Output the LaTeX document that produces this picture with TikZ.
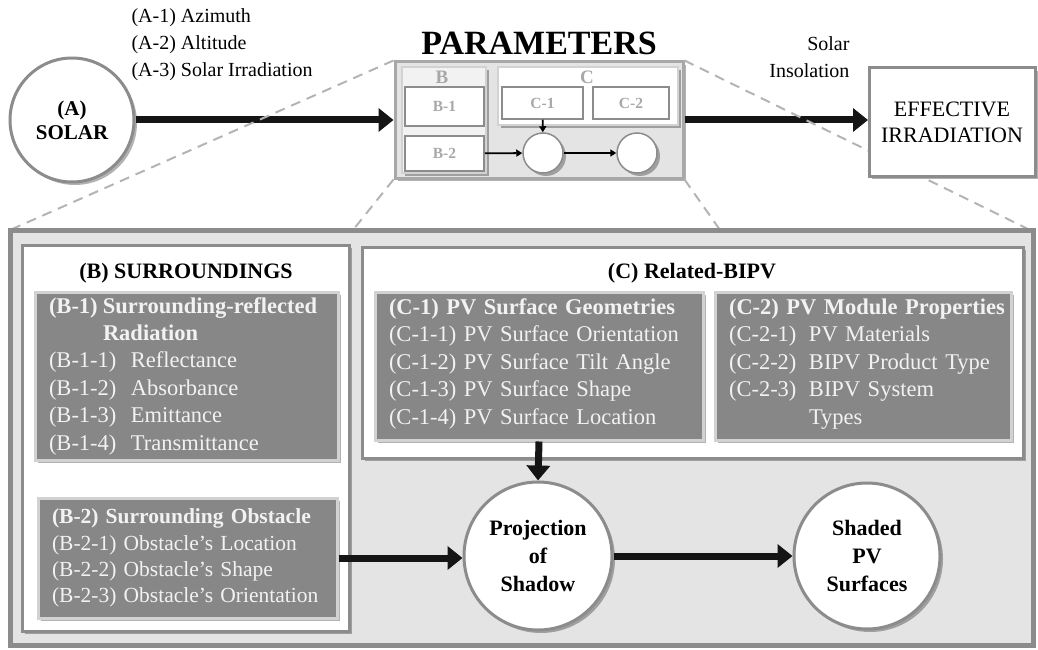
\documentclass[tikz,border=0pt]{standalone}
\usepackage{fontspec}
\setmainfont{Liberation Serif}
\usetikzlibrary{arrows.meta,shadows}
\newcommand\setfs[2]{\fontsize{#1}{#2}\selectfont}
\definecolor{framegray}{HTML}{8C8C8C}
\definecolor{panelgray}{HTML}{E4E4E4}
\definecolor{boxgray}{HTML}{878787}
\definecolor{boxedge}{HTML}{D2D2D2}
\definecolor{dashgray}{HTML}{B4B4B4}
\definecolor{minigray}{HTML}{A8A8A8}
\definecolor{arrowblack}{HTML}{151515}
\tikzset{
  shadowed/.style={drop shadow={shadow xshift=3pt,shadow yshift=-3pt,opacity=0.3,fill=black}},
  bigarrow/.style={line width=7pt,draw=arrowblack,-{Triangle[length=15pt,width=23pt]}},
  miniarrow/.style={line width=1.8pt,draw=black,-{Triangle[length=6pt,width=7pt]}},
  roundnode/.style={circle,draw=framegray,line width=3pt,fill=white,shadowed,align=center,inner sep=0pt},
  panel/.style={draw=framegray,line width=3pt,fill=white,shadowed,align=center,inner sep=0pt},
  darkbox/.style={draw=boxedge,line width=3pt,fill=boxgray,shadowed,text=white!95!black,
    align=left,inner xsep=14pt,inner ysep=0pt},
  minibox/.style={draw=framegray,line width=1.5pt,fill=white,text=minigray,
    font=\setfs{15.5}{18}\bfseries,inner sep=0pt},
  zoomline/.style={draw=dashgray,line width=2pt,dash pattern=on 10pt off 7pt}
}
\begin{document}
\begin{tikzpicture}[x=1pt,y=-1pt]
    \useasboundingbox (0,0) rectangle (1038,650);

    % top row
    \node [roundnode,minimum size=124pt,font=\setfs{21}{24}\bfseries] (sol) at (72,120) {(A)\\SOLAR};
    \node [align=left,anchor=west,font=\setfs{20}{27}] (alab) at (128,45)
        {(A-1) Azimuth\\(A-2) Altitude\\(A-3) Solar Irradiation};
    \node [font=\setfs{34}{40}\bfseries] (ptitle) at (539,43) {PARAMETERS};

    \node [draw=minigray,line width=3pt,fill=panelgray,shadowed,minimum width=288pt,minimum height=116pt] (par) at (539,120) {};
    \node [draw=boxedge,line width=1.5pt,fill=white!95!black,shadowed,minimum width=84pt,minimum height=106pt] (pb) at (444,120) {};
    \node [text=minigray,font=\setfs{19}{22}\bfseries] (pbl) at (442,77) {B};
    \node [minibox,minimum width=79pt,minimum height=39pt] (pbone) at (444.5,106.5) {B-1};
    \node [minibox,minimum width=79pt,minimum height=35pt] (pbtwo) at (444.5,153.5) {B-2};
    \node [draw=boxedge,line width=1.5pt,fill=white,shadowed,minimum width=180pt,minimum height=58pt] (pc) at (588,96) {};
    \node [text=minigray,font=\setfs{19}{22}\bfseries] (pcl) at (587,77) {C};
    \node [minibox,minimum width=81pt,minimum height=32pt] (pcone) at (542.5,103) {C-1};
    \node [minibox,minimum width=76pt,minimum height=32pt] (pctwo) at (631,103) {C-2};
    \node [minibox,circle,minimum size=40pt,shadowed] (pcirca) at (543,153) {};
    \node [minibox,circle,minimum size=40pt,shadowed] (pcircb) at (637,153) {};
    \draw [miniarrow] (pbtwo) -- (pcirca);
    \draw [miniarrow] (pcirca) -- (pcircb);
    \draw [miniarrow] (pcone) -- (pcirca);

    \draw [bigarrow] (sol.east) -- (par.west |- sol.east);
    \draw [bigarrow] (par.east) -- (868,120) coordinate (effin);

    % zoom lines
    \coordinate (zbl) at (353,230);
    \coordinate (zbr) at (720,230);
    \coordinate (ztl) at (10,230);
    \coordinate (ztr) at (1028,229);
    \draw [zoomline] (par.north west) -- (ztl);
    \draw [zoomline] (par.south west) -- (zbl);
    \draw [zoomline] (par.north east) -- (ztr);
    \draw [zoomline] (par.south east) -- (zbr);

    \node [align=right,anchor=east,font=\setfs{20}{27}] (ins) at (853,57) {Solar\\Insolation};
    \node [panel,minimum width=166pt,minimum height=108pt,font=\setfs{22}{26}] (eff) at (952,122)
        {EFFECTIVE\\IRRADIATION};

    % detail frame
    \node [draw=framegray,line width=5pt,fill=panelgray,minimum width=1023pt,minimum height=415pt] (det) at (522,437.5) {};

    \node [panel,minimum width=327pt,minimum height=386pt] (surr) at (185.5,438) {};
    \node [font=\setfs{22}{26}\bfseries] (surrt) at (186,273) {(B) SURROUNDINGS};
    \node [panel,minimum width=661pt,minimum height=211pt] (rel) at (692.5,352.5) {};
    \node [font=\setfs{22}{26}\bfseries] (relt) at (692,273) {(C) Related-BIPV};

    \node [darkbox,text width=275pt,minimum height=168pt,font=\setfs{22.5}{27.4}] (bone) at (186.5,376)
        {\mbox{\bfseries\makebox[54pt][l]{(B-1)}Surrounding-reflected}\\
         \textbf{\hspace*{54pt}Radiation}\\
         \makebox[82pt][l]{(B-1-1)}Reflectance\\
         \makebox[82pt][l]{(B-1-2)}Absorbance\\
         \makebox[82pt][l]{(B-1-3)}Emittance\\
         \makebox[82pt][l]{(B-1-4)}Transmittance};
    \node [darkbox,text width=271pt,minimum height=120pt,font=\setfs{21.5}{26.3}] (btwo) at (187.5,558)
        {\mbox{\bfseries (B-2) Surrounding Obstacle}\\
         (B-2-1) Obstacle’s Location\\
         (B-2-2) Obstacle’s Shape\\
         (B-2-3) Obstacle’s Orientation};
    \node [darkbox,text width=300pt,minimum height=148pt,font=\setfs{22.5}{27.5}] (cone) at (539,366)
        {\mbox{\bfseries (C-1) PV Surface Geometries}\\
         \mbox{(C-1-1) PV Surface Orientation}\\
         (C-1-2) PV Surface Tilt Angle\\
         (C-1-3) PV Surface Shape\\
         (C-1-4) PV Surface Location\\[-18pt]\mbox{}};
    \node [darkbox,text width=268pt,minimum height=148pt,font=\setfs{22.5}{27.5}] (ctwo) at (863,366)
        {\mbox{\bfseries (C-2) PV Module Properties}\\
         \makebox[80pt][l]{(C-2-1)}PV Materials\\
         \mbox{\makebox[80pt][l]{(C-2-2)}BIPV Product Type}\\
         \makebox[80pt][l]{(C-2-3)}BIPV System\\
         \hspace*{80pt}Types\\[-18pt]\mbox{}};

    \node [roundnode,minimum size=148pt,font=\setfs{22}{28}\bfseries] (proj) at (538,556) {Projection\\of\\Shadow};
    \node [roundnode,minimum size=146pt,font=\setfs{22}{28}\bfseries] (shad) at (867,556) {Shaded\\PV\\Surfaces};

    \draw [bigarrow] (btwo.east) -- (proj.west |- btwo.east);
    \draw [bigarrow] (cone.south) -- (proj.north);
    \draw [bigarrow] (proj.east) -- (shad.west);
\end{tikzpicture}
\end{document}
